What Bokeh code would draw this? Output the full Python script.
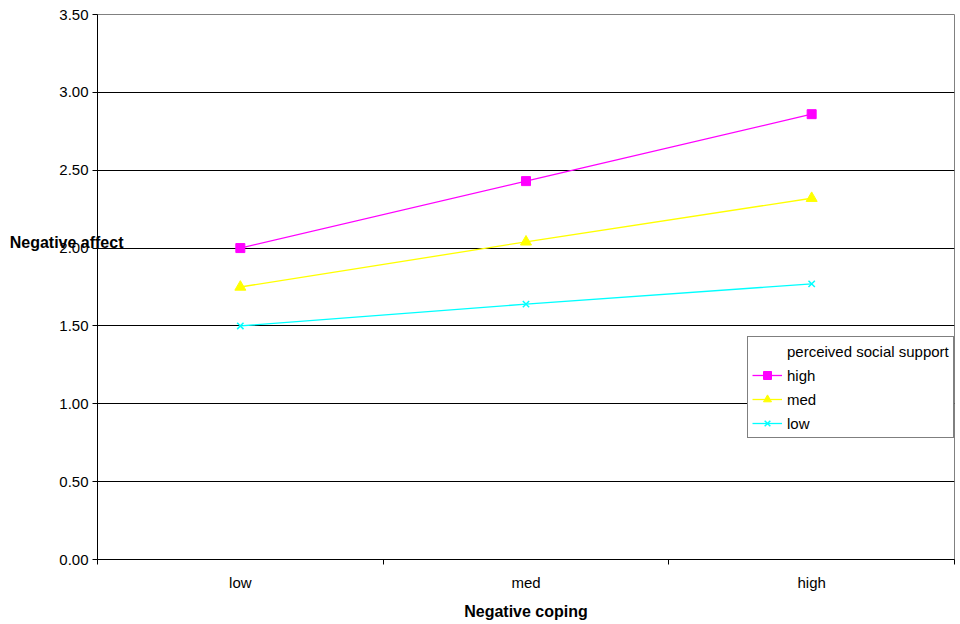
from bokeh.plotting import figure
from bokeh.models import (FixedTicker, NumeralTickFormatter, Range1d,
                          Legend, LegendItem, LinearAxis)
from bokeh.embed import file_html
from bokeh.resources import INLINE

categories = ["low", "med", "high"]
series_names = ["high", "med", "low"]
high_support = [2.00, 2.43, 2.86]
med_support = [1.75, 2.04, 2.32]
low_support = [1.50, 1.64, 1.77]
y_ticks = [0.0, 0.5, 1.0, 1.5, 2.0, 2.5, 3.0, 3.5]
x_title = "Negative coping"
y_title = "Negative affect"
y_title_at = 2.036
legend_title = "perceived social support"

FONT = "Liberation Sans"
REG = "15px"
BOLD = "16px"

xs = [i + 0.5 for i in range(len(categories))]
bounds = [float(i) for i in range(len(categories) + 1)]

p = figure(width=960, height=624, output_backend="svg", toolbar_location=None,
           x_range=Range1d(0, len(categories)), y_range=Range1d(0, 3.5),
           min_border_left=97, min_border_right=6, min_border_top=14,
           min_border_bottom=65)
p.background_fill_color = "white"
p.border_fill_color = "white"
p.outline_line_color = "#808080"
p.outline_line_width = 1

# grid
p.xgrid.visible = False
p.ygrid.ticker = FixedTicker(ticks=y_ticks)
p.ygrid.grid_line_color = "#000000"
p.ygrid.grid_line_width = 1

# x axis
p.xaxis.ticker = FixedTicker(ticks=xs, minor_ticks=bounds)
p.xaxis.major_label_overrides = {x: c for x, c in zip(xs, categories)}
p.xaxis.major_tick_out = 0
p.xaxis.major_tick_in = 0
p.xaxis.minor_tick_out = 5
p.xaxis.minor_tick_in = 0
p.xaxis.minor_tick_line_color = "black"
p.xaxis.major_label_standoff = 9
p.xaxis.axis_label = x_title
p.xaxis.axis_label_standoff = 9
p.xaxis.axis_label_text_font = FONT
p.xaxis.axis_label_text_font_style = "bold"
p.xaxis.axis_label_text_font_size = BOLD
p.xaxis.axis_label_text_color = "black"

# y axis
p.yaxis.ticker = FixedTicker(ticks=y_ticks)
p.yaxis.formatter = NumeralTickFormatter(format="0.00")
p.yaxis.major_tick_out = 5
p.yaxis.major_tick_in = 0
p.yaxis.minor_tick_line_color = None
p.yaxis.major_label_standoff = 4

for ax in (p.xaxis, p.yaxis):
    ax.axis_line_color = "black"
    ax.major_tick_line_color = "black"
    ax.major_label_text_font = FONT
    ax.major_label_text_font_size = REG
    ax.major_label_text_color = "black"

# horizontal y-axis title, drawn as the single label of an outer axis
title_axis = LinearAxis(ticker=FixedTicker(ticks=[y_title_at]),
                        major_label_overrides={y_title_at: y_title},
                        axis_line_color=None, major_tick_line_color=None,
                        minor_tick_line_color=None,
                        major_tick_out=0, major_tick_in=0,
                        major_label_standoff=-67,
                        major_label_text_font=FONT,
                        major_label_text_font_size=BOLD,
                        major_label_text_font_style="bold",
                        major_label_text_color="black")
p.add_layout(title_axis, "left")

# series
title_r = p.line(x=[], y=[], line_alpha=0)

l1 = p.line(xs, high_support, line_color="#FF00FF", line_width=1.3)
m1 = p.scatter(xs, high_support, marker="square", size=9,
               fill_color="#FF00FF", line_color="#FF00FF")
l2 = p.line(xs, med_support, line_color="#FFFF00", line_width=1.3)
m2 = p.scatter(xs, med_support, marker="triangle", size=11,
               fill_color="#FFFF00", line_color="#FFFF00")
l3 = p.line(xs, low_support, line_color="#00FFFF", line_width=1.3)
m3 = p.scatter(xs, low_support, marker="x", size=9,
               line_color="#00FFFF", line_width=1.5)

legend = Legend(items=[
    LegendItem(label=legend_title, renderers=[title_r]),
    LegendItem(label=series_names[0], renderers=[l1, m1]),
    LegendItem(label=series_names[1], renderers=[l2, m2]),
    LegendItem(label=series_names[2], renderers=[l3, m3]),
], location=(650, 121))
legend.glyph_width = 30
legend.glyph_height = 20
legend.label_height = 20
legend.spacing = 4
legend.padding = 4
legend.margin = 0
legend.label_standoff = 5
legend.label_text_font = FONT
legend.label_text_font_size = REG
legend.label_text_color = "black"
legend.border_line_color = "black"
legend.border_line_width = 1
legend.background_fill_color = "white"
legend.background_fill_alpha = 1
p.add_layout(legend)

open("out.html", "w").write(file_html(p, INLINE))
